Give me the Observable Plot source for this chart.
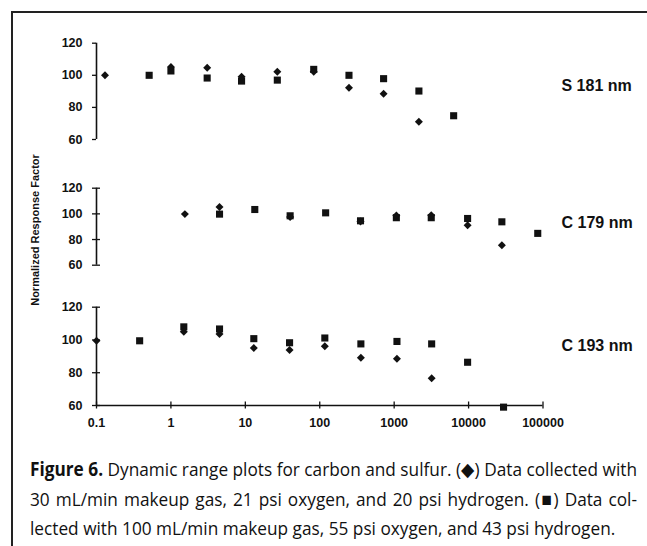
<!DOCTYPE html>
<html>
<head>
<meta charset="utf-8">
<script src="https://cdn.jsdelivr.net/npm/d3@7"></script>
<script src="https://cdn.jsdelivr.net/npm/@observablehq/plot@0.6"></script>
<style>
html, body { margin: 0; padding: 0; background: #fff; }
#wrap { position: relative; width: 647px; height: 546px; overflow: hidden; background: #fff; }
#wrap svg { position: absolute; left: 0; top: 0; }
.border { position: absolute; left: 11px; top: 11px; right: -5px; bottom: -5px; border-left: 2px solid #222; border-top: 2px solid #222; }
.ytitle { position: absolute; left: 35px; top: 230px; transform: translate(-50%, -50%) rotate(-90deg); white-space: nowrap;
  font-family: "Liberation Sans", Arial, sans-serif; font-weight: bold; font-size: 11px; color: #111; }
.cap { position: absolute; left: 30px; top: 455px; width: 607px; color: #111; transform-origin: 0 0;
  font-family: "Open Sans", "Liberation Sans", sans-serif; font-size: 19px; }
.cap .ln { height: 29.5px; line-height: 29.5px; white-space: nowrap; text-align: left; text-align-last: left; }
.cap b { font-weight: 700; }
</style>
</head>
<body>
<div id="wrap">
  <div class="border"></div>
  <div class="ytitle">Normalized Response Factor</div>
  <div class="cap" id="cap"></div>
</div>
<script>
// ---- axes ----
const xTicks = [0.1, 1, 10, 100, 1000, 10000, 100000];
const xTickLabels = ["0.1", "1", "10", "100", "1000", "10000", "100000"];
const yTicks = [60, 80, 100, 120];

// ---- panel names ----
const panelLabels = ["S 181 nm", "C 179 nm", "C 193 nm"];

// ---- S 181 nm ----
const s181DiamondX = [0.13, 1.0, 3.07, 8.9, 26.9, 83, 247, 721, 2150];
const s181DiamondY = [100, 105.2, 104.7, 99.1, 102.2, 102.2, 92.3, 88.5, 71];
const s181SquareX  = [0.51, 1.0, 3.07, 8.9, 26.9, 83, 247, 721, 2150, 6300];
const s181SquareY  = [100, 102.7, 98.3, 96.4, 97, 103.7, 100, 97.9, 90.2, 74.8];

// ---- C 179 nm ----
const c179DiamondX = [1.54, 4.5, 40, 353, 1070, 3150, 9700, 28000];
const c179DiamondY = [99.8, 105.4, 97.5, 94, 98.8, 99, 91.2, 75.5];
const c179SquareX  = [4.5, 13.4, 40, 120, 353, 1070, 3150, 9700, 28000, 85000];
const c179SquareY  = [99.8, 103.4, 98.5, 100.8, 94.6, 97, 97, 96.4, 93.8, 84.8];

// ---- C 193 nm ----
const c193DiamondX = [0.1, 1.49, 4.5, 13, 39.3, 117, 357, 1090, 3190];
const c193DiamondY = [99.5, 105, 103.7, 95.1, 93.9, 96.1, 89.2, 88.6, 76.6];
const c193SquareX  = [0.38, 1.49, 4.5, 13, 39.3, 117, 357, 1090, 3190, 9700, 29500];
const c193SquareY  = [99.5, 108, 106.7, 100.8, 98.3, 101.2, 97.6, 99.1, 97.6, 86.4, 59];

// ---- caption ----
const captionLines = [
  "<b>Figure 6.</b> Dynamic range plots for carbon and sulfur. (\u25C6) Data collected with",
  "30 mL/min makeup gas, 21 psi oxygen, and 20 psi hydrogen. (\u25A0) Data col-",
  "lected with 100 mL/min makeup gas, 55 psi oxygen, and 43 psi hydrogen."
];

const ink = "#111";
const W = 647, H = 546;

function rows(xs, ys) { return xs.map((x, i) => ({x, v: ys[i]})); }

function panel({top, bottom, label, labelY, dX, dY, sX, sY, showX, cross}) {
  const marks = [
    Plot.ruleX([xTicks[0]], {y1: yTicks[0], y2: yTicks[yTicks.length - 1], stroke: ink, strokeWidth: 1.6}),
    cross
      ? Plot.axisY({ticks: yTicks, tickSize: 8, dx: 4, tickFormat: () => "", label: null, stroke: ink, strokeWidth: 1.3})
      : Plot.axisY({ticks: yTicks, tickSize: 4, tickFormat: () => "", label: null, stroke: ink, strokeWidth: 1.3}),
    Plot.axisY({ticks: yTicks, tickSize: 0, tickPadding: 14, label: null, tickFormat: d => String(d), fill: ink}),
    Plot.dot(rows(sX, sY), {x: "x", y: "v", symbol: "square", r: 4, fill: ink, stroke: null}),
    Plot.dot(rows(dX, dY), {x: "x", y: "v", symbol: "diamond2", r: 3.6, fill: ink, stroke: null}),
    Plot.text([label], {frameAnchor: "right", y: labelY, dx: 18.5, textAnchor: "start", fontSize: 16, fill: ink})
  ];
  if (showX) {
    marks.unshift(
      Plot.ruleY([yTicks[0]], {x1: xTicks[0], x2: xTicks[xTicks.length - 1], stroke: ink, strokeWidth: 1.6}),
      Plot.axisX({ticks: xTicks, tickSize: 7, dy: -3.5, tickFormat: () => "", label: null, stroke: ink, strokeWidth: 1.3}),
      Plot.axisX({ticks: xTicks, tickSize: 0, tickPadding: 13, label: null,
        tickFormat: d => xTickLabels[xTicks.indexOf(d)], fill: ink})
    );
  }
  return Plot.plot({
    width: W, height: H,
    marginLeft: 96, marginRight: 104.5, marginTop: top, marginBottom: H - bottom,
    x: showX ? {type: "log", domain: [xTicks[0], xTicks[xTicks.length - 1]]}
             : {type: "log", domain: [xTicks[0], xTicks[xTicks.length - 1]], axis: null},
    y: {domain: [yTicks[0], yTicks[yTicks.length - 1]]},
    style: {fontFamily: "'Liberation Sans', Arial, sans-serif", fontSize: "12.5px", fontWeight: "bold",
            color: ink, background: "transparent", overflow: "visible"},
    marks
  });
}

const wrap = document.getElementById("wrap");
wrap.appendChild(panel({top: 42.7, bottom: 139, label: panelLabels[0], labelY: 93.3,
  dX: s181DiamondX, dY: s181DiamondY, sX: s181SquareX, sY: s181SquareY, showX: false, cross: false}));
wrap.appendChild(panel({top: 187.7, bottom: 264.7, label: panelLabels[1], labelY: 92.8,
  dX: c179DiamondX, dY: c179DiamondY, sX: c179SquareX, sY: c179SquareY, showX: false, cross: true}));
wrap.appendChild(panel({top: 306.7, bottom: 405, label: panelLabels[2], labelY: 96.5,
  dX: c193DiamondX, dY: c193DiamondY, sX: c193SquareX, sY: c193SquareY, showX: true, cross: true}));

// caption: condensed by a horizontal scale so the justified lines span 607px
const cap = document.getElementById("cap");
const spans = captionLines.map((t, i) => {
  const d = document.createElement("div");
  d.className = "ln";
  const s = document.createElement("span");
  s.innerHTML = t;
  d.appendChild(s);
  cap.appendChild(d);
  return s;
});
const targetW = 607;
const widest = Math.max(...spans.slice(0, 2).map(s => s.getBoundingClientRect().width));
const k = Math.min(1, targetW / widest);
cap.style.width = (targetW / k) + "px";
cap.style.transform = `scaleX(${k})`;
cap.querySelectorAll(".ln").forEach((d, i) => {
  if (i < captionLines.length - 1) { d.style.textAlign = "justify"; d.style.textAlignLast = "justify"; }
});
</script>
</body>
</html>
